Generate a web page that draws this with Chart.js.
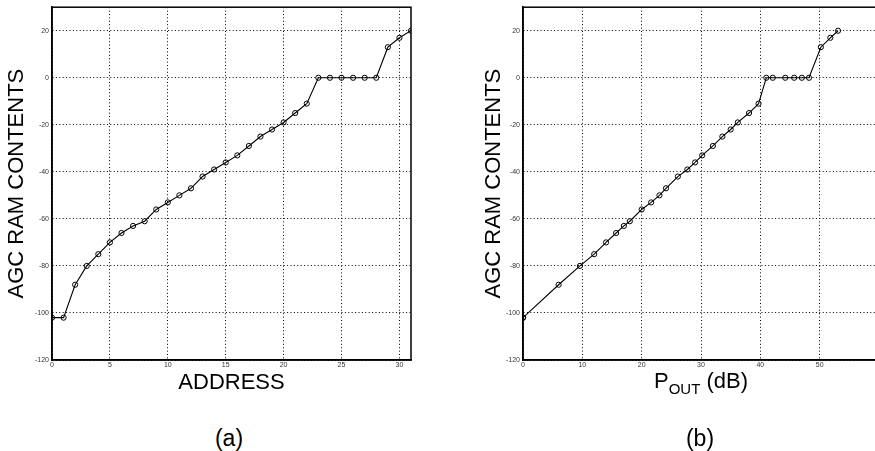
<!DOCTYPE html>
<html>
<head>
<meta charset="utf-8">
<script src="https://cdn.jsdelivr.net/npm/chart.js@4"></script>
<style>
html, body { margin: 0; padding: 0; background: #fff; }
#wrap { position: relative; width: 875px; height: 451px; overflow: hidden; }
canvas { position: absolute; top: 0; }
#chartA { left: 0; }
#chartB { left: 440px; }
.lbl { position: absolute; font-family: "Liberation Sans", Arial, sans-serif; color: #000; white-space: nowrap; transform: translate(-50%, -50%); line-height: 1; }
.lbl sub { font-size: 15px; vertical-align: -6px; }
</style>
</head>
<body>
<div id="wrap">
  <canvas id="chartA" width="440" height="400"></canvas>
  <canvas id="chartB" width="460" height="400"></canvas>
  <div class="lbl" style="left:701px; top:383px; font-size:22px;">P<sub>OUT</sub> (dB)</div>
  <div class="lbl" style="left:229px; top:438px; font-size:23px;">(a)</div>
  <div class="lbl" style="left:700px; top:438px; font-size:23px;">(b)</div>
</div>
<script>
// AGC RAM contents vs address (a) and vs output power (b)
const address = [0, 1, 2, 3, 4, 5, 6, 7, 8, 9, 10, 11, 12, 13, 14, 15,
                 16, 17, 18, 19, 20, 21, 22, 23, 24, 25, 26, 27, 28, 29, 30, 31];
const ramContents = [-102, -102, -88, -80, -75, -70, -66, -63, -61, -56, -53, -50, -47, -42, -39, -36,
                     -33, -29, -25, -22, -19, -15, -11, 0, 0, 0, 0, 0, 0, 13, 17, 20];
const poutDb = [0, 0, 6, 9.6, 12, 14, 15.7, 17, 18, 20, 21.6, 23, 24.1, 26.1, 27.7, 29,
                30.2, 32, 33.6, 35, 36.2, 38.1, 39.7, 41, 42.1, 44.2, 45.7, 47, 48.2, 50.2, 51.8, 53.1];
const yTicks = [-120, -100, -80, -60, -40, -20, 0, 20];

const FONT = '"Liberation Sans", Arial, sans-serif';

// matlab style closed box around the plot
const boxPlugin = {
    id: 'box',
    afterDraw(chart) {
        const { ctx, chartArea: a } = chart;
        ctx.save();
        ctx.strokeStyle = '#000';
        ctx.lineWidth = 1.5;
        ctx.strokeRect(a.left, a.top, a.right - a.left, a.bottom - a.top);
        ctx.restore();
    }
};

function makeChart(id, xs, xOpts, padding, yWidth, yTitlePad) {
    const points = xs.map((x, i) => ({ x: x, y: ramContents[i] }));
    return new Chart(document.getElementById(id).getContext('2d'), {
        type: 'scatter',
        data: {
            datasets: [{
                data: points,
                showLine: true,
                borderColor: '#000',
                borderWidth: 1.1,
                pointRadius: 2.6,
                pointBorderWidth: 1,
                pointBorderColor: '#000',
                pointBackgroundColor: 'rgba(0,0,0,0)'
            }]
        },
        options: {
            responsive: false,
            animation: false,
            layout: { padding: padding },
            plugins: { legend: { display: false }, tooltip: { enabled: false } },
            scales: {
                x: {
                    type: 'linear',
                    min: xOpts.min,
                    max: xOpts.max,
                    afterFit: (s) => { s.height = 40; },
                    ticks: {
                        stepSize: xOpts.step,
                        includeBounds: false,
                        padding: 1,
                        color: '#333',
                        font: { family: FONT, size: 7 },
                        maxRotation: 0
                    },
                    grid: { color: '#000', lineWidth: 1, drawTicks: false },
                    border: { color: '#000', width: 1.5, dash: [1, 2.4] },
                    title: {
                        display: !!xOpts.title,
                        text: xOpts.title || '',
                        color: '#000',
                        font: { family: FONT, size: 22 },
                        padding: { top: 0, bottom: 4 }
                    }
                },
                y: {
                    type: 'linear',
                    min: -120,
                    max: 30,
                    afterFit: (s) => { s.width = yWidth; },
                    afterBuildTicks: (s) => { s.ticks = yTicks.map(v => ({ value: v })); },
                    ticks: {
                        padding: 3,
                        color: '#333',
                        font: { family: FONT, size: 7 }
                    },
                    grid: { color: '#000', lineWidth: 1, drawTicks: false },
                    border: { color: '#000', width: 1.5, dash: [1, 2.4] },
                    title: {
                        display: true,
                        text: 'AGC RAM CONTENTS',
                        color: '#000',
                        font: { family: FONT, size: 22 },
                        padding: { top: yTitlePad, bottom: 0 }
                    }
                }
            }
        },
        plugins: [boxPlugin]
    });
}

makeChart('chartA', address, { min: 0, max: 31, step: 5, title: 'ADDRESS' },
          { top: 6, right: 29, bottom: 0, left: 0 }, 52, 4);
makeChart('chartB', poutDb, { min: 0, max: 60, step: 10, title: '' },
          { top: 5, right: 21, bottom: 0, left: 37 }, 46, 4);
</script>
</body>
</html>
